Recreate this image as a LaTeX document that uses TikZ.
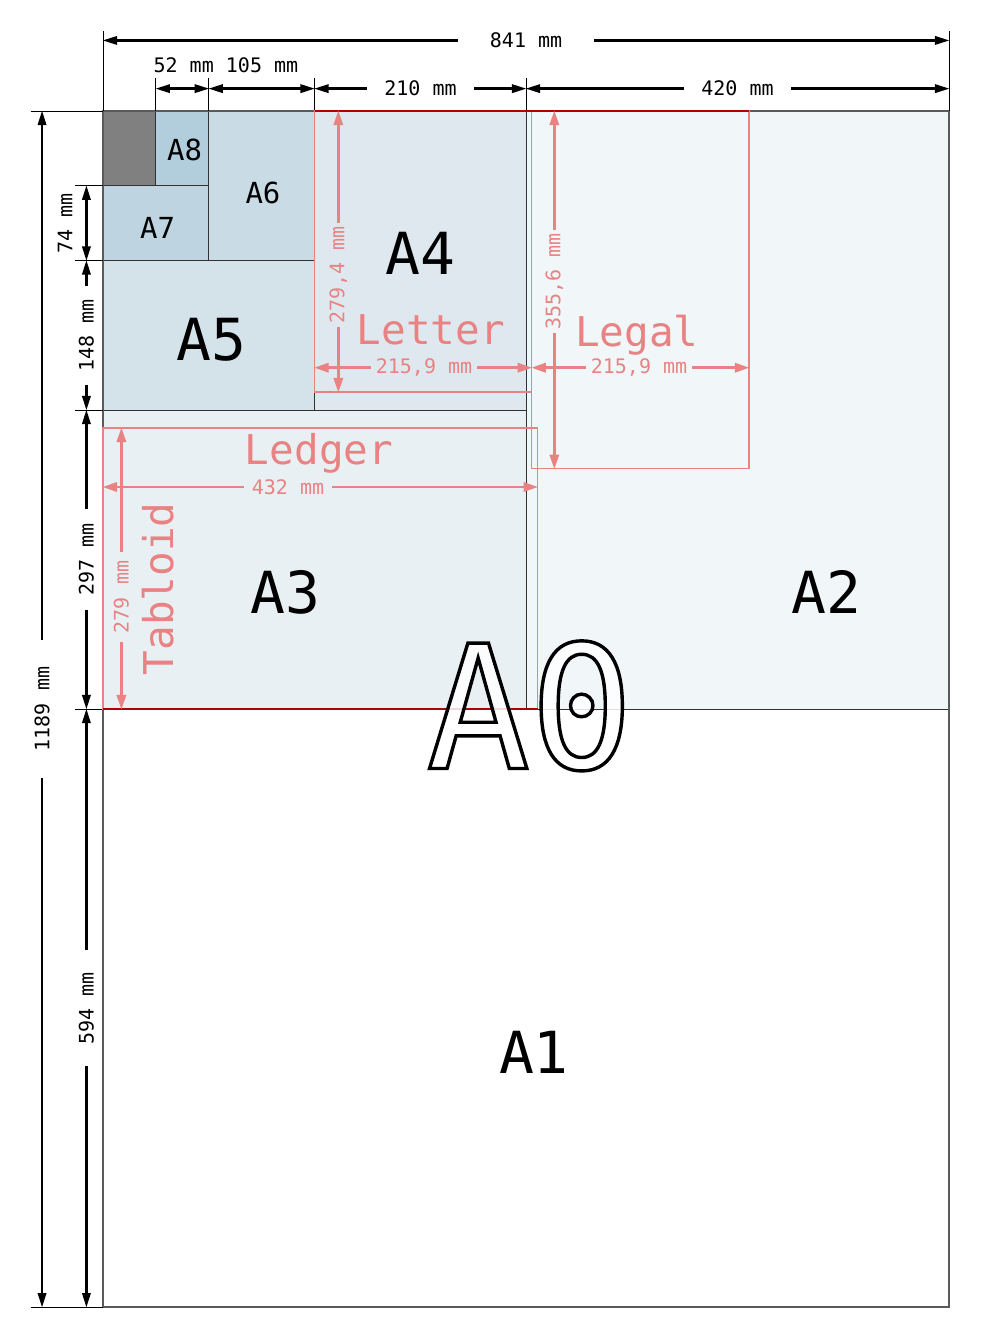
\documentclass[tikz,border=0pt]{standalone}
\usepackage{fontspec}
\setmainfont{DejaVu Sans Mono}
\definecolor{usred}{RGB}{233,130,130}
\definecolor{edgegrey}{RGB}{50,50,50}
\definecolor{outergrey}{RGB}{90,90,90}
\definecolor{sheetA2}{RGB}{241,246,249}
\definecolor{sheetA3}{RGB}{232,240,244}
\definecolor{sheetA4}{RGB}{224,232,239}
\definecolor{sheetA5}{RGB}{212,226,234}
\definecolor{sheetA6}{RGB}{201,219,229}
\definecolor{sheetA7}{RGB}{190,213,225}
\definecolor{sheetA8}{RGB}{178,206,220}
\definecolor{sheetA9}{RGB}{128,128,128}
\begin{document}
\begin{tikzpicture}[x=1.006pt,y=1.006pt]
\tikzstyle{every node}+=[inner sep=0pt]
\tikzstyle{sheet}=[draw=edgegrey, line width=0.9pt]
\tikzstyle{extline}=[black, line width=0.9pt]
\tikzstyle{dimline}=[black, line width=2.6pt]
\tikzstyle{usline}=[usred, line width=2.6pt]
\tikzstyle{usbox}=[usred, line width=1.2pt]
\tikzstyle{dimtext}=[font=\fontsize{20}{20}\selectfont]
\tikzstyle{ustext}=[text=usred, font=\fontsize{20}{20}\selectfont]
\tikzstyle{usname}=[text=usred, anchor=base, font=\fontsize{41}{41}\selectfont]
\tikzstyle{smallA}=[anchor=base, font=\fontsize{29}{29}\selectfont]
\tikzstyle{bigA}=[anchor=base, font=\fontsize{58}{58}\selectfont]
\tikzstyle{hugeA}=[anchor=base, font=\fontsize{172}{172}\selectfont]
\fill [white] (-102.4,110.3) rectangle (871.8,-1219.7);
\useasboundingbox (-102.4,110.3) rectangle (871.8,-1219.7);
% the sheets
\draw [sheet, fill=white] (0,-594.5) rectangle (841,-1189);
\draw [sheet, fill=sheetA2] (420.5,0) rectangle (841,-594.5);
\draw [sheet, fill=sheetA3] (0,-297.25) rectangle (420.5,-594.5);
\draw [sheet, fill=sheetA4] (210.25,0) rectangle (420.5,-297.25);
\draw [sheet, fill=sheetA5] (0,-148.625) rectangle (210.25,-297.25);
\draw [sheet, fill=sheetA6] (105.125,0) rectangle (210.25,-148.625);
\draw [sheet, fill=sheetA7] (0,-74.31) rectangle (105.125,-148.625);
\draw [sheet, fill=sheetA8] (52.56,0) rectangle (105.125,-74.31);
\draw [sheet, fill=sheetA9] (0,0) rectangle (52.56,-74.31);
\draw [outergrey, line width=1.3pt] (0,0) rectangle (841,-1189);
% extension lines
\draw [extline] (0,79.5) -- (0,0);
\draw [extline] (841,79.5) -- (841,0);
\draw [extline] (52.56,32.4) -- (52.56,0);
\draw [extline] (105.125,32.4) -- (105.125,0);
\draw [extline] (210.25,32.4) -- (210.25,0);
\draw [extline] (420.5,32.4) -- (420.5,0);
\draw [extline] (-72,0) -- (0,0);
\draw [extline] (-72,-1189) -- (0,-1189);
\draw [extline] (-27.8,-74.31) -- (0,-74.31);
\draw [extline] (-27.8,-148.625) -- (0,-148.625);
\draw [extline] (-27.8,-297.25) -- (0,-297.25);
\draw [extline] (-27.8,-594.5) -- (0,-594.5);
% US formats
\draw [usbox] (210.25,0) rectangle (426.15,-279.4);
\draw [usbox] (426.15,0) rectangle (642.05,-355.6);
\draw [usbox] (0,-315.1) rectangle (432,-594.5);
\draw [red!70!black, line width=1.2pt] (210.25,0) -- (642.05,0);
\draw [red!70!black, line width=1.2pt] (0,-594.5) -- (432,-594.5);
% widths
\node (w841) [dimtext, inner sep=32pt] at (420.5,70.1) {841 mm};
\draw [dimline] (w841) -- (10,70.1);
\fill (0,70.1) -- (14,74.6) -- (14,65.6);
\draw [dimline] (w841) -- (831,70.1);
\fill (841,70.1) -- (827,74.6) -- (827,65.6);
\node (w52) [dimtext] at (80.2,45.5) {52 mm};
\draw [dimline] (62.56,22.2) -- (95.125,22.2);
\fill (52.56,22.2) -- (66.56,26.7) -- (66.56,17.7);
\fill (105.125,22.2) -- (91.125,26.7) -- (91.125,17.7);
\node (w105) [dimtext] at (158.1,45.5) {105 mm};
\draw [dimline] (115.125,22.2) -- (200.25,22.2);
\fill (105.125,22.2) -- (119.125,26.7) -- (119.125,17.7);
\fill (210.25,22.2) -- (196.25,26.7) -- (196.25,17.7);
\node (w210) [dimtext, inner sep=17pt] at (315.6,22.2) {210 mm};
\draw [dimline] (w210) -- (220.25,22.2);
\fill (210.25,22.2) -- (224.25,26.7) -- (224.25,17.7);
\draw [dimline] (w210) -- (410.5,22.2);
\fill (420.5,22.2) -- (406.5,26.7) -- (406.5,17.7);
\node (w420) [dimtext, inner sep=17pt] at (630.7,22.2) {420 mm};
\draw [dimline] (w420) -- (430.5,22.2);
\fill (420.5,22.2) -- (434.5,26.7) -- (434.5,17.7);
\draw [dimline] (w420) -- (831,22.2);
\fill (841,22.2) -- (827,26.7) -- (827,17.7);
% heights
\node (h1189) [dimtext, rotate=90, inner sep=27pt] at (-60.6,-594.5) {1189 mm};
\draw [dimline] (h1189) -- (-60.6,-10);
\fill (-60.6,0) -- (-65.1,-14) -- (-56.1,-14);
\draw [dimline] (h1189) -- (-60.6,-1179);
\fill (-60.6,-1189) -- (-65.1,-1175) -- (-56.1,-1175);
\node (h74) [dimtext, rotate=90] at (-37.8,-111.5) {74 mm};
\draw [dimline] (-16.5,-84.31) -- (-16.5,-138.625);
\fill (-16.5,-74.31) -- (-21,-88.31) -- (-12,-88.31);
\fill (-16.5,-148.625) -- (-21,-134.625) -- (-12,-134.625);
\node (h148) [dimtext, rotate=90, inner sep=13pt] at (-16.5,-222.9) {148 mm};
\draw [dimline] (h148) -- (-16.5,-158.625);
\fill (-16.5,-148.625) -- (-21,-162.625) -- (-12,-162.625);
\draw [dimline] (h148) -- (-16.5,-287.25);
\fill (-16.5,-297.25) -- (-21,-283.25) -- (-12,-283.25);
\node (h297) [dimtext, rotate=90, inner sep=14pt] at (-16.5,-445.9) {297 mm};
\draw [dimline] (h297) -- (-16.5,-307.25);
\fill (-16.5,-297.25) -- (-21,-311.25) -- (-12,-311.25);
\draw [dimline] (h297) -- (-16.5,-584.5);
\fill (-16.5,-594.5) -- (-21,-580.5) -- (-12,-580.5);
\node (h594) [dimtext, rotate=90, inner sep=22pt] at (-16.5,-891.75) {594 mm};
\draw [dimline] (h594) -- (-16.5,-604.5);
\fill (-16.5,-594.5) -- (-21,-608.5) -- (-12,-608.5);
\draw [dimline] (h594) -- (-16.5,-1179);
\fill (-16.5,-1189) -- (-21,-1175) -- (-12,-1175);
% Letter
\node (v279) [ustext, rotate=90, inner sep=4pt] at (233.9,-163) {279,4 mm};
\draw [usline] (v279) -- (233.9,-9);
\fill [usred] (233.9,0) -- (228.9,-14) -- (238.9,-14);
\draw [usline] (v279) -- (233.9,-270.4);
\fill [usred] (233.9,-279.4) -- (228.9,-265.4) -- (238.9,-265.4);
\node (l216) [ustext, inner sep=5pt] at (319.1,-255.2) {215,9 mm};
\draw [usline] (l216) -- (219.25,-255.2);
\fill [usred] (210.25,-255.2) -- (224.25,-250.2) -- (224.25,-260.2);
\draw [usline] (l216) -- (417.15,-255.2);
\fill [usred] (426.15,-255.2) -- (412.15,-250.2) -- (412.15,-260.2);
% Legal
\node (v356) [ustext, rotate=90, inner sep=3pt] at (448.6,-169.5) {355,6 mm};
\draw [usline] (v356) -- (448.6,-9);
\fill [usred] (448.6,0) -- (443.6,-14) -- (453.6,-14);
\draw [usline] (v356) -- (448.6,-346.6);
\fill [usred] (448.6,-355.6) -- (443.6,-341.6) -- (453.6,-341.6);
\node (g216) [ustext, inner sep=5pt] at (532.8,-255.2) {215,9 mm};
\draw [usline] (g216) -- (435.15,-255.2);
\fill [usred] (426.15,-255.2) -- (440.15,-250.2) -- (440.15,-260.2);
\draw [usline] (g216) -- (633.05,-255.2);
\fill [usred] (642.05,-255.2) -- (628.05,-250.2) -- (628.05,-260.2);
% Ledger / Tabloid
\node (w432) [ustext, inner sep=8pt] at (183.9,-373.8) {432 mm};
\draw [usline] (w432) -- (9,-373.8);
\fill [usred] (0,-373.8) -- (14,-368.8) -- (14,-378.8);
\draw [usline] (w432) -- (423,-373.8);
\fill [usred] (432,-373.8) -- (418,-368.8) -- (418,-378.8);
\node (v279b) [ustext, rotate=90, inner sep=9pt] at (18.3,-483.1) {279 mm};
\draw [usline] (v279b) -- (18.3,-324.1);
\fill [usred] (18.3,-315.1) -- (13.3,-329.1) -- (23.3,-329.1);
\draw [usline] (v279b) -- (18.3,-585.5);
\fill [usred] (18.3,-594.5) -- (13.3,-580.5) -- (23.3,-580.5);
\node (letter) [usname] at (326.0,-232.1) {Letter};
\node (legal) [usname] at (530.5,-234.1) {Legal};
\node (ledger) [usname] at (214.7,-351.4) {Ledger};
\node (tabloid) [usname, rotate=90] at (70.3,-475.1) {Tabloid};
% sheet names
\node (a8) [smallA] at (81.0,-49.7) {A8};
\node (a7) [smallA] at (54.3,-127.2) {A7};
\node (a6) [smallA] at (159.0,-92.2) {A6};
\node (a5) [bigA] at (107.4,-247.9) {A5};
\node (a4) [bigA] at (315.6,-163.0) {A4};
\node (a3) [bigA] at (180.9,-499.3) {A3};
\node (a2) [bigA] at (719.2,-499.3) {A2};
\node (a1) [bigA] at (428.4,-956.3) {A1};
\node (a0) [hugeA, fill opacity=0.85, draw opacity=1] at (424.4,-653.6)
  {\special{pdf:literal direct 2 Tr 3.4 w 1 1 1 rg 0 0 0 RG}A0\special{pdf:literal direct 0 Tr}};
\end{tikzpicture}
\end{document}
